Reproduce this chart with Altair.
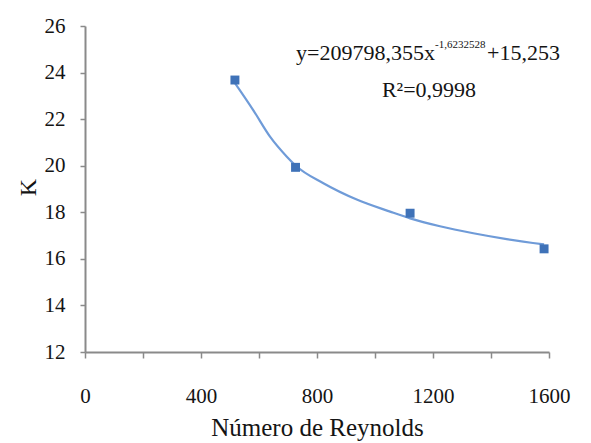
import altair as alt
import pandas as pd

# measured points
reynolds = [517, 726, 1121, 1583]
k_values = [23.68, 19.93, 17.96, 16.43]

# trend curve
curve_x = [517, 580, 638, 696, 728, 822, 937, 1052, 1121, 1224, 1339, 1454, 1583]
curve_k = [23.55, 22.39, 21.25, 20.39, 19.99, 19.25, 18.55, 18.03, 17.74, 17.40, 17.10, 16.85, 16.62]

x_ticks = list(range(0, 1601, 100))
y_ticks = [12, 14, 16, 18, 20, 22, 24, 26]

pts = pd.DataFrame({"Re": reynolds, "K": k_values})
crv = pd.DataFrame({"Re": curve_x, "K": curve_k})

FONT = "Liberation Serif"
AX = "#8a8a8a"
TXT = "#141414"

xscale = alt.Scale(domain=[0, 1600], nice=False, zero=False)
yscale = alt.Scale(domain=[12, 26], nice=False, zero=False)

xaxis = alt.Axis(
    title="Número de Reynolds", values=x_ticks, format="d",
    labelExpr="datum.value % 400 == 0 ? datum.label : ''",
    grid=False, domainColor=AX, domainWidth=2, tickColor=AX, tickWidth=1.5, tickSize=6,
    labelFont=FONT, labelFontSize=21, labelColor=TXT, labelPadding=27,
    labelFlush=False, labelOverlap=False,
    titleFont=FONT, titleFontSize=25, titleFontWeight="normal", titleColor=TXT,
    titleY=83, titleBaseline="alphabetic",
)
yaxis = alt.Axis(
    title="K", values=y_ticks, grid=False,
    domainColor=AX, domainWidth=2, tickColor=AX, tickWidth=1.5, tickSize=5,
    labelFont=FONT, labelFontSize=21, labelColor=TXT, labelPadding=15,
    labelFlush=False, labelOverlap=False,
    titleFont=FONT, titleFontSize=24, titleFontWeight="normal", titleColor=TXT,
    titleX=-50, titleY=161, titleBaseline="alphabetic", titleAngle=-90, titleAlign="center",
)

line = alt.Chart(crv).mark_line(interpolate="monotone", color="#6f9bd8", strokeWidth=2.2).encode(
    x=alt.X("Re:Q", scale=xscale, axis=xaxis),
    y=alt.Y("K:Q", scale=yscale, axis=yaxis),
)

points = alt.Chart(pts).mark_square(size=80, color="#3f72b8", opacity=1).encode(
    x=alt.X("Re:Q", scale=xscale),
    y=alt.Y("K:Q", scale=yscale),
)

def label(text, x, y, size, align):
    return alt.Chart(pd.DataFrame({"t": [text]})).mark_text(
        font=FONT, fontSize=size, color=TXT, align=align, baseline="alphabetic"
    ).encode(x=alt.value(x), y=alt.value(y), text="t:N")

eq_main = label("y=209798,355x", 350, 34, 22, "right")
eq_sup = label("-1,6232528", 350, 22, 11, "left")
eq_tail = label("+15,253", 402, 34, 22, "left")
r2 = label("R²=0,9998", 344, 71, 22, "center")

chart = alt.layer(line, points, eq_main, eq_sup, eq_tail, r2).properties(
    width=464, height=326,
    autosize=alt.AutoSizeParams(type="none"),
    padding={"left": 85, "top": 26, "right": 42, "bottom": 91},
    background="white",
).configure_view(stroke=None)

chart.save("out.html", embed_options={"renderer": "svg", "actions": False})
